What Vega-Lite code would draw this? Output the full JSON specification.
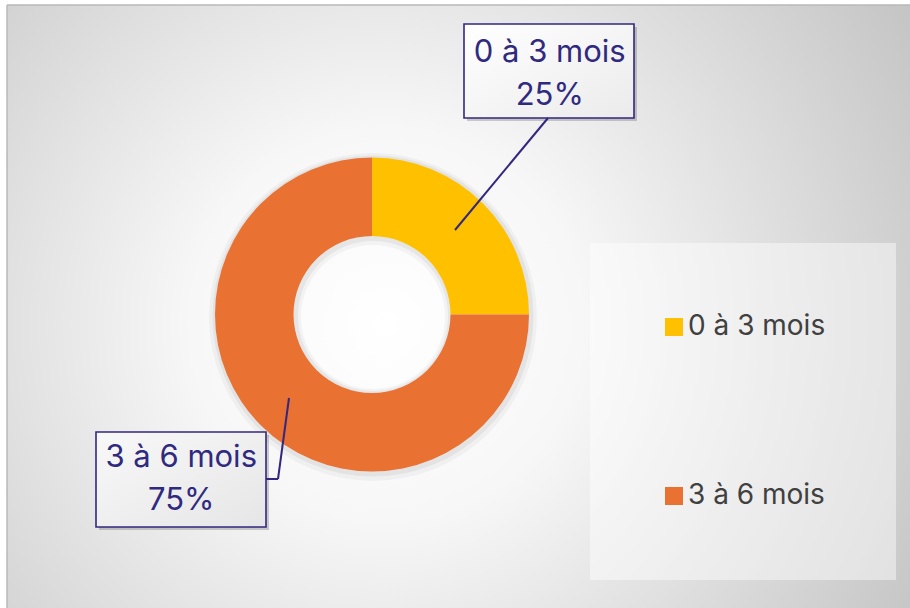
{
  "$schema": "https://vega.github.io/schema/vega-lite/v6.json",
  "width": 903,
  "height": 603,
  "autosize": "none",
  "padding": {"left": 7, "top": 5, "right": 0, "bottom": 0},
  "background": "white",
  "config": {
    "view": {"stroke": null},
    "font": "Inter"
  },
  "data": {
    "values": [
      {"category": "0 à 3 mois", "value": 25, "label": ["0 à 3 mois", "25%"]},
      {"category": "3 à 6 mois", "value": 75, "label": ["3 à 6 mois", "75%"]}
    ]
  },
  "layer": [
    {
      "data": {"values": [{}]},
      "mark": {
        "type": "rect",
        "fill": {
          "gradient": "radial",
          "x1": 0.42, "y1": 0.52, "r1": 0,
          "x2": 0.42, "y2": 0.52, "r2": 0.72,
          "stops": [
            {"offset": 0, "color": "#ffffff"},
            {"offset": 0.3, "color": "#f7f7f7"},
            {"offset": 1, "color": "#c0c0c0"}
          ]
        }
      },
      "encoding": {}
    },
    {
      "data": {"values": [{}]},
      "mark": {"type": "rule", "color": "#b8b8b8", "strokeWidth": 1.5},
      "encoding": {"x": {"value": 0}, "y": {"value": 0}, "y2": {"value": 603}}
    },
    {
      "data": {"values": [{}]},
      "mark": {"type": "rule", "color": "#b8b8b8", "strokeWidth": 1.5},
      "encoding": {"x": {"value": 0}, "x2": {"value": 903}, "y": {"value": 0}}
    },
    {
      "mark": {"type": "arc", "x": 366, "y": 312, "radius": 164, "radius2": 72, "color": "#000000", "opacity": 0.035},
      "encoding": {
        "theta": {"field": "value", "type": "quantitative", "stack": true},
        "detail": {"field": "category"}
      }
    },
    {
      "mark": {"type": "arc", "x": 366, "y": 311, "radius": 160.5, "radius2": 75, "color": "#000000", "opacity": 0.05},
      "encoding": {
        "theta": {"field": "value", "type": "quantitative", "stack": true},
        "detail": {"field": "category"}
      }
    },
    {
      "mark": {"type": "arc", "x": 365, "y": 309.5, "radius": 157, "radius2": 78.5},
      "encoding": {
        "theta": {"field": "value", "type": "quantitative", "stack": true},
        "color": {
          "field": "category",
          "type": "nominal",
          "scale": {"domain": ["0 à 3 mois", "3 à 6 mois"], "range": ["#FFC000", "#E97132"]},
          "legend": {
            "title": null,
            "orient": "none",
            "legendX": 583,
            "legendY": 238,
            "padding": 70,
            "fillColor": "rgba(255,255,255,0.45)",
            "symbolType": "square",
            "symbolSize": 324,
            "symbolStrokeWidth": 0,
            "symbolOpacity": 1,
            "labelFont": "Inter",
            "labelFontSize": 28,
            "labelColor": "#404040",
            "labelOffset": 0,
            "labelLimit": 400,
            "rowPadding": 141
          }
        }
      }
    },
    {
      "data": {"values": [{}]},
      "mark": {"type": "rect", "x": 460, "x2": 630, "y": 22, "y2": 116, "color": "#000000", "opacity": 0.18},
      "encoding": {}
    },
    {
      "data": {"values": [{}]},
      "mark": {"type": "rect", "x": 92, "x2": 262, "y": 430, "y2": 525, "color": "#000000", "opacity": 0.18},
      "encoding": {}
    },
    {
      "data": {"values": [{}]},
      "mark": {
        "type": "rect", "x": 457, "x2": 627, "y": 19, "y2": 113,
        "fill": {"gradient": "linear", "x1": 0, "y1": 0, "x2": 1, "y2": 1, "stops": [{"offset": 0, "color": "#ffffff"}, {"offset": 1, "color": "#ebebeb"}]},
        "stroke": "#33277f", "strokeWidth": 1.6
      },
      "encoding": {}
    },
    {
      "data": {"values": [{}]},
      "mark": {
        "type": "rect", "x": 89, "x2": 259, "y": 427, "y2": 522,
        "fill": {"gradient": "linear", "x1": 0, "y1": 0, "x2": 1, "y2": 1, "stops": [{"offset": 0, "color": "#f8f8f8"}, {"offset": 1, "color": "#e6e6e6"}]},
        "stroke": "#33277f", "strokeWidth": 1.6
      },
      "encoding": {}
    },
    {
      "data": {"values": [{}]},
      "mark": {"type": "rule", "color": "#33277f", "strokeWidth": 2},
      "encoding": {"x": {"value": 448}, "y": {"value": 225}, "x2": {"value": 541}, "y2": {"value": 113}}
    },
    {
      "data": {"values": [{}]},
      "mark": {"type": "rule", "color": "#33277f", "strokeWidth": 2},
      "encoding": {"x": {"value": 282}, "y": {"value": 393}, "x2": {"value": 271}, "y2": {"value": 474}}
    },
    {
      "data": {"values": [{}]},
      "mark": {"type": "rule", "color": "#33277f", "strokeWidth": 2},
      "encoding": {"x": {"value": 271}, "y": {"value": 474}, "x2": {"value": 259}, "y2": {"value": 474}}
    },
    {
      "mark": {"type": "text", "x": 365, "y": 309.5, "radius": 250, "dx": 1, "dy": -76, "align": "center", "baseline": "alphabetic", "font": "Inter", "fontSize": 31, "lineHeight": 43, "color": "#2f2a7f"},
      "encoding": {
        "theta": {"field": "value", "type": "quantitative", "stack": true},
        "detail": {"field": "category"},
        "text": {"field": "label"},
        "opacity": {"condition": {"test": "datum.category === '0 à 3 mois'", "value": 1}, "value": 0}
      }
    },
    {
      "mark": {"type": "text", "x": 365, "y": 309.5, "radius": 250, "dx": -14, "dy": -24, "align": "center", "baseline": "alphabetic", "font": "Inter", "fontSize": 31, "lineHeight": 43, "color": "#2f2a7f"},
      "encoding": {
        "theta": {"field": "value", "type": "quantitative", "stack": true},
        "detail": {"field": "category"},
        "text": {"field": "label"},
        "opacity": {"condition": {"test": "datum.category === '3 à 6 mois'", "value": 1}, "value": 0}
      }
    }
  ]
}
